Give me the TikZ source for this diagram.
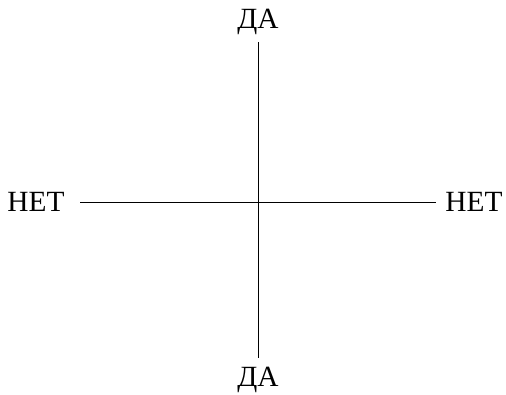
\documentclass[tikz,border=0pt]{standalone}
\usepackage{fontspec}
\setmainfont{Liberation Serif}
\usepackage{tikz}
\usetikzlibrary{positioning}

\begin{document}
\begin{tikzpicture}[x=0.75pt, y=-0.75pt,
    answer/.style={font=\fontsize{22}{25}\selectfont, anchor=base, inner sep=0pt},
    axisline/.style={line width=0.6pt}]

    \useasboundingbox (0,0) rectangle (506,394);

    \node[answer] (yesTop) at (258,28) {ДА};
    \node[answer] (yesBot) at (258,386) {ДА};
    \node[answer] (noLeft) at (36,211) {НЕТ};
    \node[answer] (noRight) at (474,211) {НЕТ};

    \coordinate (vTop) at (258,42);
    \coordinate (vBot) at (258,358);
    \coordinate (hLeft) at (80,202);
    \coordinate (hRight) at (436,202);

    \draw[axisline] (vTop) -- (vBot);
    \draw[axisline] (hLeft) -- (hRight);
\end{tikzpicture}
\end{document}
